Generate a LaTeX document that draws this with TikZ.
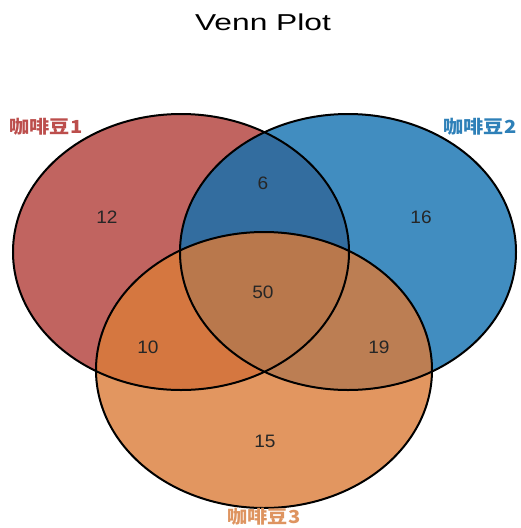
\documentclass[tikz,border=0pt]{standalone}
\usepackage{fontspec}
\setmainfont{Liberation Sans}
\newfontfamily\cjk{Noto Sans CJK SC}

\definecolor{beanred}{RGB}{177,61,56}
\definecolor{beanblue}{RGB}{17,112,176}
\definecolor{beanorange}{RGB}{219,124,56}
\definecolor{labred}{RGB}{188,78,76}
\definecolor{labblue}{RGB}{46,128,184}
\definecolor{laborange}{RGB}{222,148,96}

\begin{document}
\begin{tikzpicture}[x=1pt,y=-1pt,
  count/.style={font=\fontsize{18}{21}\selectfont,text=black!85,xscale=1.06},
  setname/.style={font=\cjk\bfseries\fontsize{18}{21}\selectfont,xscale=1.12}]
\useasboundingbox (0,0) rectangle (520,528);
\def\rx{168}
\def\ry{138}
\coordinate (c1) at (181,252);
\coordinate (c2) at (348,252);
\coordinate (c3) at (264,370);

\fill[beanred,fill opacity=0.8] (c1) ellipse [x radius=\rx, y radius=\ry];
\fill[beanblue,fill opacity=0.8] (c2) ellipse [x radius=\rx, y radius=\ry];
\fill[beanorange,fill opacity=0.8] (c3) ellipse [x radius=\rx, y radius=\ry];
\draw[line width=2pt] (c1) ellipse [x radius=\rx, y radius=\ry];
\draw[line width=2pt] (c2) ellipse [x radius=\rx, y radius=\ry];
\draw[line width=2pt] (c3) ellipse [x radius=\rx, y radius=\ry];

\node[xscale=1.38] (title) at (263,22) {\fontsize{23}{27}\selectfont Venn Plot};
\node[setname,text=labred] (set1) at (46,127) {咖啡豆1};
\node[setname,text=labblue] (set2) at (480,127) {咖啡豆2};
\node[setname,text=laborange,inner sep=1pt] (set3) at (264,517) {咖啡豆3};

\node[count] (n12) at (107,217) {12};
\node[count] (n6) at (263,183) {6};
\node[count] (n16) at (421,217) {16};
\node[count] (n50) at (263,292) {50};
\node[count] (n10) at (148,347) {10};
\node[count] (n19) at (379,347) {19};
\node[count] (n15) at (265,441) {15};
\end{tikzpicture}
\end{document}
